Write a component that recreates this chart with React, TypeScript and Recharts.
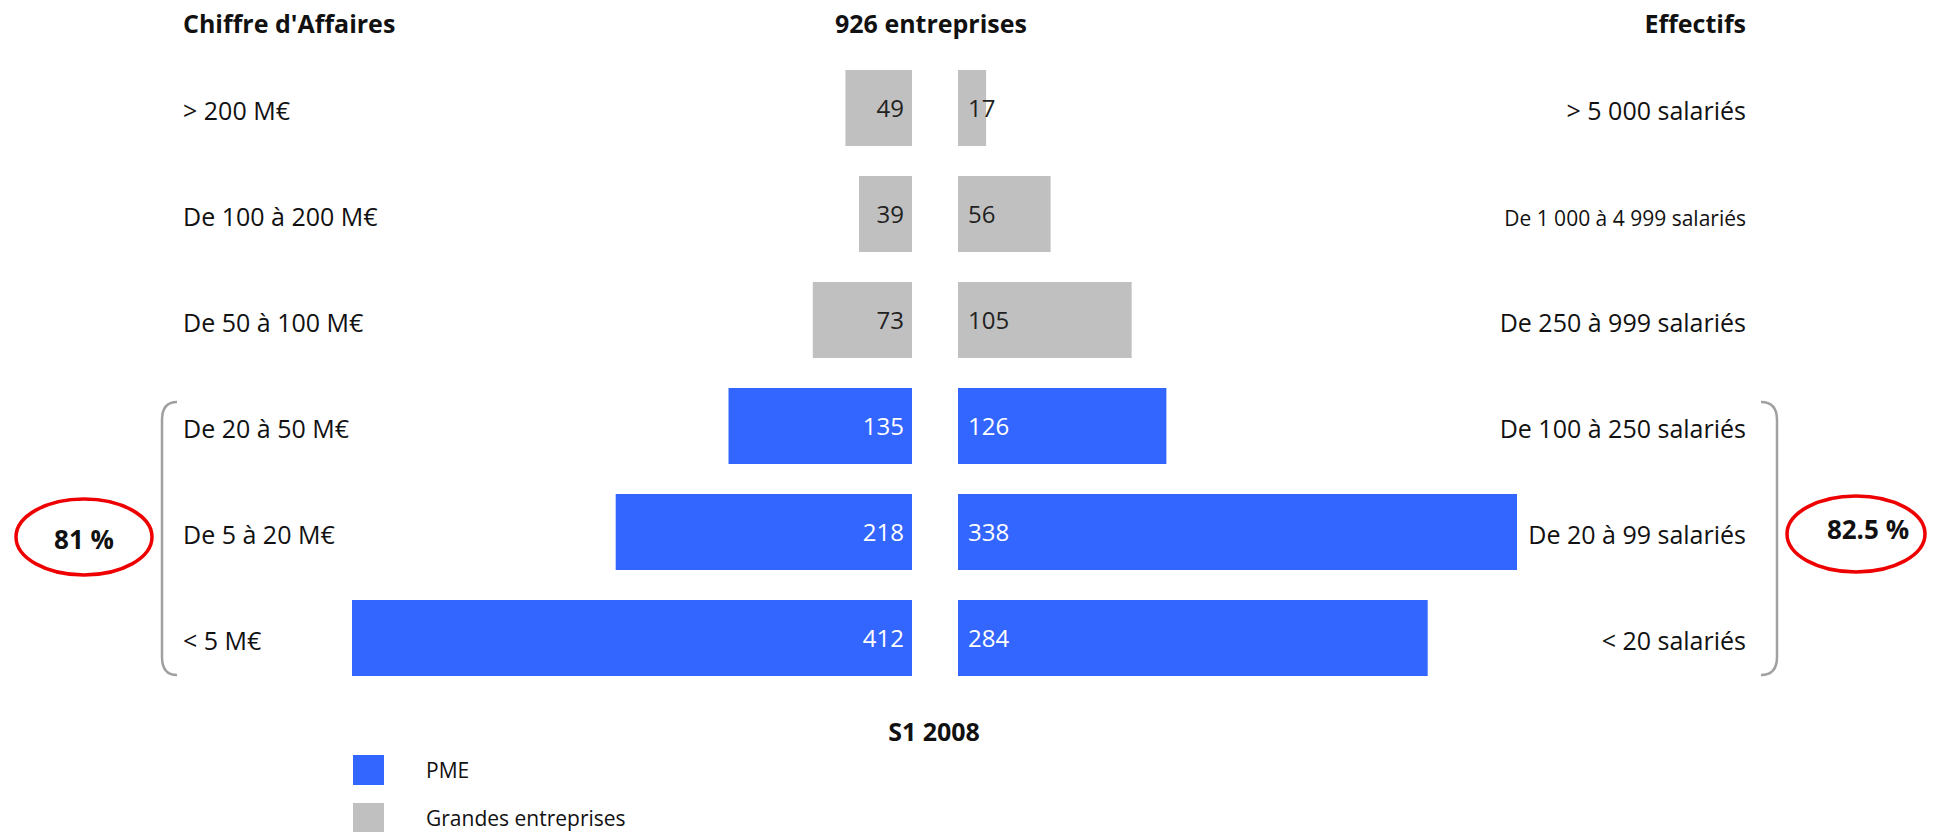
import { Bar, BarChart, LabelList, XAxis, YAxis } from "recharts";

// Rows from top to bottom
const caLabels = ["> 200 M€", "De 100 à 200 M€", "De 50 à 100 M€", "De 20 à 50 M€", "De 5 à 20 M€", "< 5 M€"];
const caPME = [null, null, null, 135, 218, 412];
const caGrandes = [49, 39, 73, null, null, null];

const effLabels = [
  "> 5 000 salariés",
  "De 1 000 à 4 999 salariés",
  "De 250 à 999 salariés",
  "De 100 à 250 salariés",
  "De 20 à 99 salariés",
  "< 20 salariés"
];
const effPME = [null, null, null, 126, 338, 284];
const effGrandes = [17, 56, 105, null, null, null];

const seriesNames = ["PME", "Grandes entreprises"];
const totalLabel = "926 entreprises";
const periodLabel = "S1 2008";
const caShare = "81 %";
const effShare = "82.5 %";

const BLUE = "#3366FF";
const GREY = "#C0C0C0";
const FONT = "'Open Sans', 'Noto Sans', sans-serif";
const W = 1937;
const H = 832;

const caData = caLabels.map((label, i) => ({ label, pme: caPME[i], grandes: caGrandes[i] }));
const effData = effLabels.map((label, i) => ({ label, pme: effPME[i], grandes: effGrandes[i] }));

// Value label drawn inside the bar, next to the centre gap.
function makeValueLabel(side: "left" | "right", color: string) {
  return (props: any) => {
    const { value } = props;
    if (value === null || value === undefined) return null;
    const vb = props.viewBox || props;
    const x0 = Math.min(vb.x, vb.x + vb.width);
    const x1 = Math.max(vb.x, vb.x + vb.width);
    const cy = vb.y + vb.height / 2;
    return (
      <text
        x={side === "left" ? x1 - 8 : x0 + 10}
        y={cy + 9}
        textAnchor={side === "left" ? "end" : "start"}
        fill={color}
        fontSize={24}
        fontFamily={FONT}
      >
        {value}
      </text>
    );
  };
}

function LeftTick(props: any) {
  const { y, payload } = props;
  return (
    <text x={183} y={y + 12} textAnchor="start" fill="#111" fontSize={25} fontFamily={FONT}>
      {payload.value}
    </text>
  );
}

function RightTick(props: any) {
  const { y, payload } = props;
  const small = String(payload.value).length > 22;
  return (
    <text x={1746} y={y + 12} textAnchor="end" fill="#111" fontSize={small ? 21 : 25} fontFamily={FONT}>
      {payload.value}
    </text>
  );
}

export default function App() {
  return (
    <div style={{ position: "absolute", left: 0, top: 0, width: W, height: H, background: "#fff", fontFamily: FONT }}>
      {/* Chiffre d'Affaires side */}
      <div style={{ position: "absolute", left: 0, top: 0 }}>
        <BarChart
          width={W}
          height={700}
          data={caData}
          layout="vertical"
          barSize={76}
          margin={{ top: 55, right: W - 912, bottom: 9, left: 0 }}
        >
          <XAxis type="number" domain={[0, 412]} reversed hide />
          <YAxis
            type="category"
            dataKey="label"
            width={352}
            axisLine={false}
            tickLine={false}
            interval={0}
            tick={<LeftTick />}
          />
          <Bar dataKey="pme" stackId="a" fill={BLUE} isAnimationActive={false}>
            <LabelList dataKey="pme" content={makeValueLabel("left", "#fff")} />
          </Bar>
          <Bar dataKey="grandes" stackId="a" fill={GREY} isAnimationActive={false}>
            <LabelList dataKey="grandes" content={makeValueLabel("left", "#222")} />
          </Bar>
        </BarChart>
      </div>

      {/* Effectifs side */}
      <div style={{ position: "absolute", left: 0, top: 0 }}>
        <BarChart
          width={W}
          height={700}
          data={effData}
          layout="vertical"
          barSize={76}
          margin={{ top: 55, right: 0, bottom: 9, left: 958 }}
        >
          <XAxis type="number" domain={[0, 338]} hide />
          <YAxis
            type="category"
            dataKey="label"
            orientation="right"
            width={W - 1517}
            axisLine={false}
            tickLine={false}
            interval={0}
            tick={<RightTick />}
          />
          <Bar dataKey="pme" stackId="a" fill={BLUE} isAnimationActive={false}>
            <LabelList dataKey="pme" content={makeValueLabel("right", "#fff")} />
          </Bar>
          <Bar dataKey="grandes" stackId="a" fill={GREY} isAnimationActive={false}>
            <LabelList dataKey="grandes" content={makeValueLabel("right", "#222")} />
          </Bar>
        </BarChart>
      </div>

      {/* Titles and annotations */}
      <svg width={W} height={H} style={{ position: "absolute", left: 0, top: 0, pointerEvents: "none" }}>
        <g fontFamily={FONT} fontWeight={700} fontSize={25} fill="#111">
          <text x={183} y={33}>Chiffre d'Affaires</text>
          <text x={931} y={33} textAnchor="middle">{totalLabel}</text>
          <text x={1746} y={33} textAnchor="end">Effectifs</text>
          <text x={934} y={741} textAnchor="middle">{periodLabel}</text>
          <text x={84} y={549} textAnchor="middle" fontSize={26}>{caShare}</text>
          <text x={1868} y={539} textAnchor="middle" fontSize={26}>{effShare}</text>
        </g>
        <path d="M 177 402 Q 162 402 162 420 L 162 657 Q 162 675 177 675" fill="none" stroke="#A0A0A0" strokeWidth={2.5} />
        <path d="M 1761 402 Q 1777 402 1777 420 L 1777 657 Q 1777 675 1761 675" fill="none" stroke="#A0A0A0" strokeWidth={2.5} />
        <ellipse cx={84} cy={537} rx={68} ry={38} fill="none" stroke="#EE0000" strokeWidth={3.5} />
        <ellipse cx={1856} cy={534} rx={69} ry={38} fill="none" stroke="#EE0000" strokeWidth={3.5} />
      </svg>

      {/* Legend */}
      <div style={{ position: "absolute", left: 353, top: 755, fontSize: 21, color: "#111" }}>
        {seriesNames.map((name, i) => (
          <div key={name} style={{ display: "flex", alignItems: "center", height: 30, marginBottom: 18 }}>
            <span style={{ width: 31, height: 30, background: i === 0 ? BLUE : GREY, display: "inline-block" }} />
            <span style={{ marginLeft: 42, lineHeight: "30px" }}>{name}</span>
          </div>
        ))}
      </div>
    </div>
  );
}
